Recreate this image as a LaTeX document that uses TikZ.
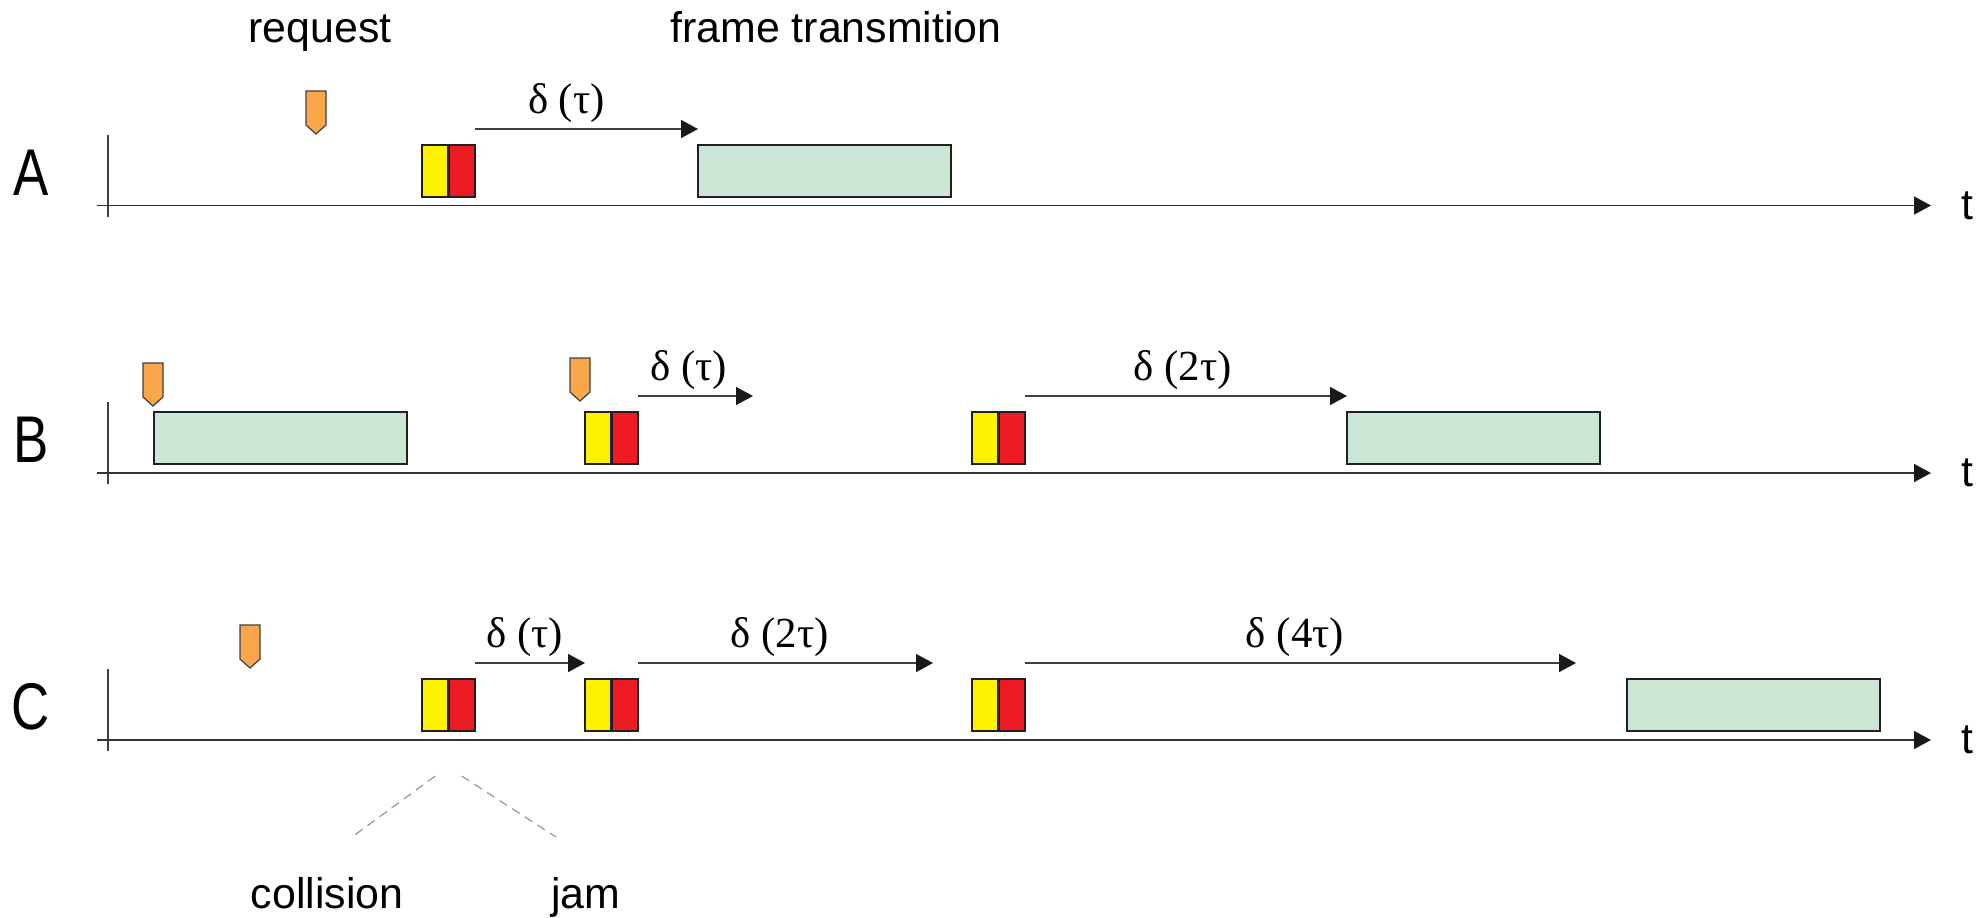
\documentclass[tikz,border=0pt]{standalone}
\usepackage{fontspec}
\setmainfont{Liberation Sans}
\newfontfamily\delayfont{Liberation Serif}
\usepackage{graphicx}
\usetikzlibrary{arrows.meta,positioning}

\definecolor{frmgreen}{RGB}{204,230,214}
\definecolor{colyellow}{RGB}{255,242,0}
\definecolor{jamred}{RGB}{237,28,36}
\definecolor{reqorange}{RGB}{250,166,74}
\definecolor{edgedark}{RGB}{35,31,32}

\tikzset{
  slot/.style={draw=edgedark,line width=0.6pt,minimum height=0.52cm,inner sep=0pt,outer sep=0pt},
  colbox/.style={slot,fill=colyellow,minimum width=0.265cm},
  jambox/.style={slot,fill=jamred,minimum width=0.265cm},
  frmbox/.style={slot,fill=frmgreen,minimum width=2.53cm},
  axis/.style={->,draw=black!80,line width=0.45pt},
  tickline/.style={draw=black!75,line width=0.45pt},
  delay/.style={->,draw=black!75,line width=0.45pt},
  lbl/.style={font=\fontsize{12.2}{14}\selectfont,inner sep=0pt},
  dlbl/.style={font=\delayfont\fontsize{12.2}{14}\selectfont,above,inner sep=1.7pt,text=black},
  rowlbl/.style={font=\fontsize{18.8}{20}\selectfont,anchor=base,inner sep=0pt},
  pointer/.style={draw=black!40,line width=0.35pt,dash pattern=on 0.09cm off 0.06cm},
  reqmark/.pic={
    \filldraw[fill=reqorange,draw=black!75,line width=0.35pt]
      (-0.1,0.43) -- (0.1,0.43) -- (0.1,0.09) -- (0,0) -- (-0.1,0.09) -- cycle;
  }
}

\begin{document}
\begin{tikzpicture}[>={Triangle[length=1.7mm,width=1.8mm,color=black!90]}]
\useasboundingbox (0,0) rectangle (19.77,-9.17);

% titles
\node[lbl,anchor=base] (req) at (3.20,-0.42) {request};
\node[lbl,anchor=base] (frmtx) at (8.36,-0.42) {frame transmition};

% station A
\node[rowlbl] (rA) at (0.31,-1.95) {\scalebox{0.8}[1]{A}};
\draw[tickline] (1.08,-1.35) -- (1.08,-2.17);
\coordinate (axA) at (19.31,-2.055);
\draw[axis] (0.97,-2.055) -- (axA);
\node[lbl,right=0.30cm of axA] (tA) {t};
\pic at (3.16,-1.34) {reqmark};
\node[colbox,anchor=south west] (colA) at (4.22,-1.97) {};
\node[jambox,right=0pt of colA] (jamA) {};
\node[frmbox,anchor=south west] (frmA) at (6.98,-1.97) {};
\draw[delay] ([yshift=0.16cm]jamA.north east) -- ([yshift=0.16cm]frmA.north west)
  node[dlbl,pos=0.41] {δ (τ)};

% station B
\node[rowlbl] (rB) at (0.31,-4.625) {\scalebox{0.8}[1]{B}};
\draw[tickline] (1.08,-4.02) -- (1.08,-4.84);
\coordinate (axB) at (19.31,-4.73);
\draw[axis] (0.97,-4.73) -- (axB);
\node[lbl,right=0.30cm of axB] (tB) {t};
\pic at (1.53,-4.06) {reqmark};
\node[frmbox,anchor=south west] (frmB1) at (1.54,-4.64) {};
\pic at (5.80,-4.01) {reqmark};
\node[colbox,anchor=south west] (colB1) at (5.85,-4.64) {};
\node[jambox,right=0pt of colB1] (jamB1) {};
\coordinate (dB1) at (7.53,-3.96);
\draw[delay] ([yshift=0.16cm]jamB1.north east) -- (dB1)
  node[dlbl,pos=0.44] {δ (τ)};
\node[colbox,anchor=south west] (colB2) at (9.72,-4.64) {};
\node[jambox,right=0pt of colB2] (jamB2) {};
\node[frmbox,anchor=south west] (frmB2) at (13.47,-4.64) {};
\draw[delay] ([yshift=0.16cm]jamB2.north east) -- ([yshift=0.16cm]frmB2.north west)
  node[dlbl,pos=0.49] {δ (2τ)};

% station C
\node[rowlbl] (rC) at (0.31,-7.295) {\scalebox{0.8}[1]{C}};
\draw[tickline] (1.08,-6.69) -- (1.08,-7.51);
\coordinate (axC) at (19.31,-7.40);
\draw[axis] (0.97,-7.40) -- (axC);
\node[lbl,right=0.30cm of axC] (tC) {t};
\pic at (2.50,-6.68) {reqmark};
\node[colbox,anchor=south west] (colC1) at (4.22,-7.31) {};
\node[jambox,right=0pt of colC1] (jamC1) {};
\node[colbox,anchor=south west] (colC2) at (5.85,-7.31) {};
\node[jambox,right=0pt of colC2] (jamC2) {};
\node[colbox,anchor=south west] (colC3) at (9.72,-7.31) {};
\node[jambox,right=0pt of colC3] (jamC3) {};
\node[frmbox,anchor=south west] (frmC) at (16.27,-7.31) {};
\draw[delay] ([yshift=0.16cm]jamC1.north east) -- ([yshift=0.16cm]colC2.north west)
  node[dlbl,pos=0.45] {δ (τ)};
\coordinate (dC2) at (9.33,-6.63);
\draw[delay] ([yshift=0.16cm]jamC2.north east) -- (dC2)
  node[dlbl,pos=0.48] {δ (2τ)};
\coordinate (dC3) at (15.76,-6.63);
\draw[delay] ([yshift=0.16cm]jamC3.north east) -- (dC3)
  node[dlbl,pos=0.49] {δ (4τ)};

% legend below
\node[lbl,anchor=base] (collab) at (3.27,-9.08) {collision};
\node[lbl,anchor=base] (jamlab) at (5.86,-9.08) {jam};
\coordinate (colend) at (3.52,-8.37);
\coordinate (jamend) at (5.56,-8.37);
\draw[pointer] ([yshift=-0.45cm]colC1.south) -- (colend);
\draw[pointer] ([yshift=-0.45cm]jamC1.south) -- (jamend);
\end{tikzpicture}
\end{document}
